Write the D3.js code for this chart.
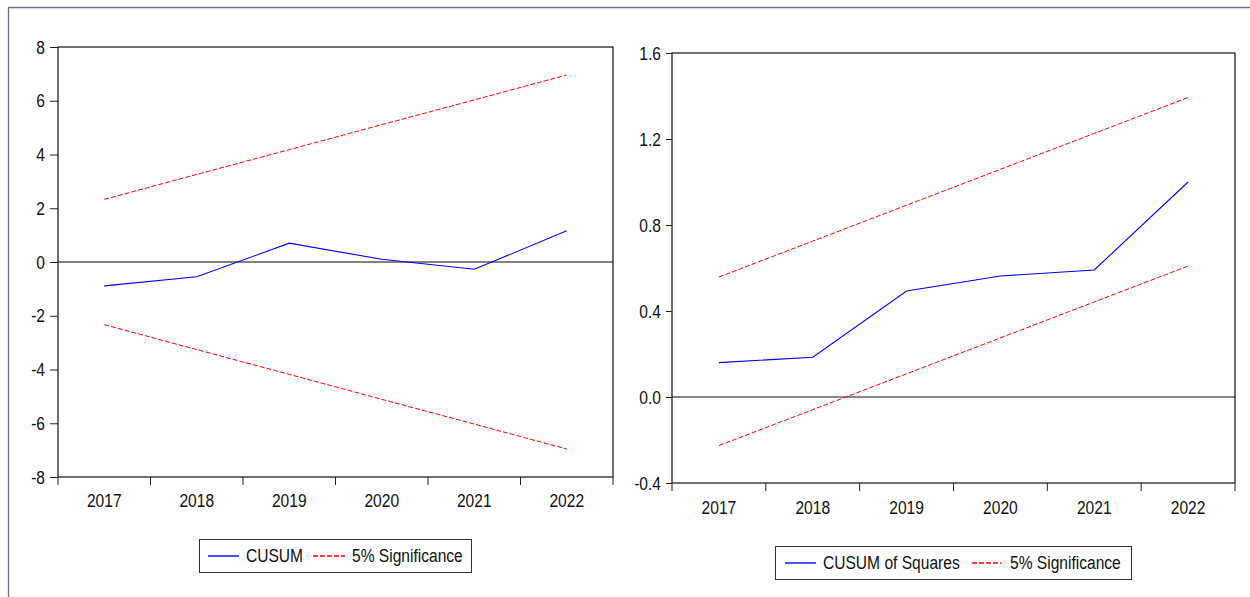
<!DOCTYPE html>
<html>
<head>
<meta charset="utf-8">
<script src="https://cdn.jsdelivr.net/npm/d3@7"></script>
<style>
  html, body { margin: 0; padding: 0; background: #fff; }
  svg text { font-family: "Liberation Sans", Arial, sans-serif; fill: #111; }
</style>
</head>
<body>
<svg id="chart" width="1250" height="597"></svg>
<script>
// Recursive residual stability tests, 2017-2022
const years = ["2017", "2018", "2019", "2020", "2021", "2022"];

const cusum      = [-0.89, -0.55, 0.70, 0.10, -0.27, 1.16];
const cusumUpper = [2.33, 3.26, 4.18, 5.11, 6.03, 6.96];
const cusumLower = [-2.33, -3.26, -4.18, -5.11, -6.03, -6.96];
const cusumTicks = [-8, -6, -4, -2, 0, 2, 4, 6, 8];

const cusumSq      = [0.160, 0.185, 0.493, 0.563, 0.591, 1.000];
const cusumSqUpper = [0.558, 0.725, 0.892, 1.059, 1.226, 1.393];
const cusumSqLower = [-0.226, -0.059, 0.108, 0.275, 0.442, 0.609];
const cusumSqTicks = [-0.4, 0.0, 0.4, 0.8, 1.2, 1.6];

const BLUE = "#0000ff";
const RED = "#ff0000";

const svg = d3.select("#chart");
const NARROW = 0.82;   // horizontal squeeze giving a condensed face

// Page frame
svg.append("path")
  .attr("d", "M8.5,597 V7.5 H1250")
  .attr("fill", "none")
  .attr("stroke", "#6c6c84")
  .attr("stroke-width", 1.3);

// Plain hyphen for negative numbers
const hyphen = f => d => f(d).replace("\u2212", "-");

// Turn axis labels into condensed text while keeping their anchor point
function condense(sel) {
  sel.each(function () {
    const t = d3.select(this);
    const x = +t.attr("x") || 0;
    const y = +t.attr("y") || 0;
    t.attr("x", null).attr("y", null)
     .attr("transform", `translate(${x},${y}) scale(${NARROW},1)`);
  });
}

function label(g, x, y, str) {
  return g.append("text")
    .attr("transform", `translate(${x},${y}) scale(${NARROW},1)`)
    .attr("font-size", 19)
    .text(str);
}

function panel(cfg) {
  const g = svg.append("g");
  const x = d3.scaleBand().domain(years).range(cfg.xRange);
  const y = d3.scaleLinear().domain(cfg.yDomain).range(cfg.yRange);
  const cx = d => x(d) + x.bandwidth() / 2;
  const [x0, x1] = cfg.xRange;
  const [yb, yt] = cfg.yRange;

  // Zero reference line
  g.append("line")
    .attr("x1", x0).attr("x2", x1)
    .attr("y1", y(0)).attr("y2", y(0))
    .style("stroke", cfg.zeroColor)
    .style("stroke-width", cfg.zeroWidth);

  // Plot frame
  g.append("rect")
    .attr("x", x0).attr("y", yt)
    .attr("width", x1 - x0).attr("height", yb - yt)
    .style("fill", "none")
    .style("stroke", "#111")
    .style("stroke-width", 1.2);

  // Y axis
  const ya = g.append("g")
    .attr("transform", `translate(${x0},0)`)
    .call(d3.axisLeft(y).tickValues(cfg.yTicks).tickFormat(hyphen(cfg.yFormat))
      .tickSize(cfg.yTickSize).tickPadding(5).tickSizeOuter(0));
  ya.attr("font-family", null);
  ya.select(".domain").remove();
  ya.selectAll(".tick line").style("stroke", "#222");
  ya.selectAll(".tick text").attr("font-size", 19).call(condense);

  // X axis: labels centred in each year, ticks on the year boundaries
  const xa = g.append("g")
    .attr("transform", `translate(0,${yb})`)
    .call(d3.axisBottom(x).tickSize(0).tickPadding(0).tickSizeOuter(0));
  xa.attr("font-family", null);
  xa.select(".domain").remove();
  xa.selectAll(".tick text")
    .attr("font-size", 19)
    .attr("y", cfg.xLabelBaseline)
    .attr("dy", null)
    .call(condense);
  const edges = years.map(d => x(d)).concat([x1]);
  g.append("g").selectAll("line").data(edges).join("line")
    .attr("x1", d => d).attr("x2", d => d)
    .attr("y1", yb).attr("y2", yb + cfg.xTickSize)
    .style("stroke", "#222");

  // Series
  const line = vals => d3.line().x((d, i) => cx(years[i])).y(d => y(d))(vals);
  [cfg.upper, cfg.lower].forEach(vals => {
    g.append("path").attr("d", line(vals))
      .style("fill", "none").style("stroke", RED)
      .style("stroke-width", 1).style("stroke-dasharray", "5,2");
  });
  g.append("path").attr("d", line(cfg.main))
    .style("fill", "none").style("stroke", BLUE)
    .style("stroke-width", 1.1);

  // Legend
  const L = cfg.legend;
  const lg = g.append("g");
  lg.append("rect")
    .attr("x", L.x + 0.5).attr("y", L.y + 0.5)
    .attr("width", L.w).attr("height", 33)
    .style("fill", "#fff").style("stroke", "#333").style("stroke-width", 1);
  const ly = L.y + 17;
  lg.append("path")
    .attr("d", `M${L.s1[0]},${ly}H${L.s1[1]}`)
    .style("fill", "none").style("stroke", BLUE).style("stroke-width", 1.4);
  label(lg, L.t1, L.y + 22.5, cfg.mainName);
  lg.append("path")
    .attr("d", `M${L.s2[0]},${ly}H${L.s2[1]}`)
    .style("fill", "none").style("stroke", RED).style("stroke-width", 1.4)
    .style("stroke-dasharray", "5,2");
  label(lg, L.t2, L.y + 22.5, "5% Significance");
}

panel({
  xRange: [58, 613], yRange: [477, 47], yDomain: [-8, 8],
  yTicks: cusumTicks, yFormat: d3.format("d"), yTickSize: 8,
  xTickSize: 8, xLabelBaseline: 30,
  zeroColor: "#5a5a5a", zeroWidth: 1.5,
  main: cusum, upper: cusumUpper, lower: cusumLower, mainName: "CUSUM",
  legend: { x: 199, y: 539, w: 272, s1: [208, 239], t1: 246, s2: [313, 345], t2: 352 }
});

panel({
  xRange: [672, 1235], yRange: [483, 53], yDomain: [-0.4, 1.6],
  yTicks: cusumSqTicks, yFormat: d3.format(".1f"), yTickSize: 6,
  xTickSize: 8, xLabelBaseline: 31,
  zeroColor: "#111", zeroWidth: 1,
  main: cusumSq, upper: cusumSqUpper, lower: cusumSqLower, mainName: "CUSUM of Squares",
  legend: { x: 775, y: 546, w: 356, s1: [785, 816], t1: 823, s2: [972, 1001], t2: 1010 }
});
</script>
</body>
</html>
